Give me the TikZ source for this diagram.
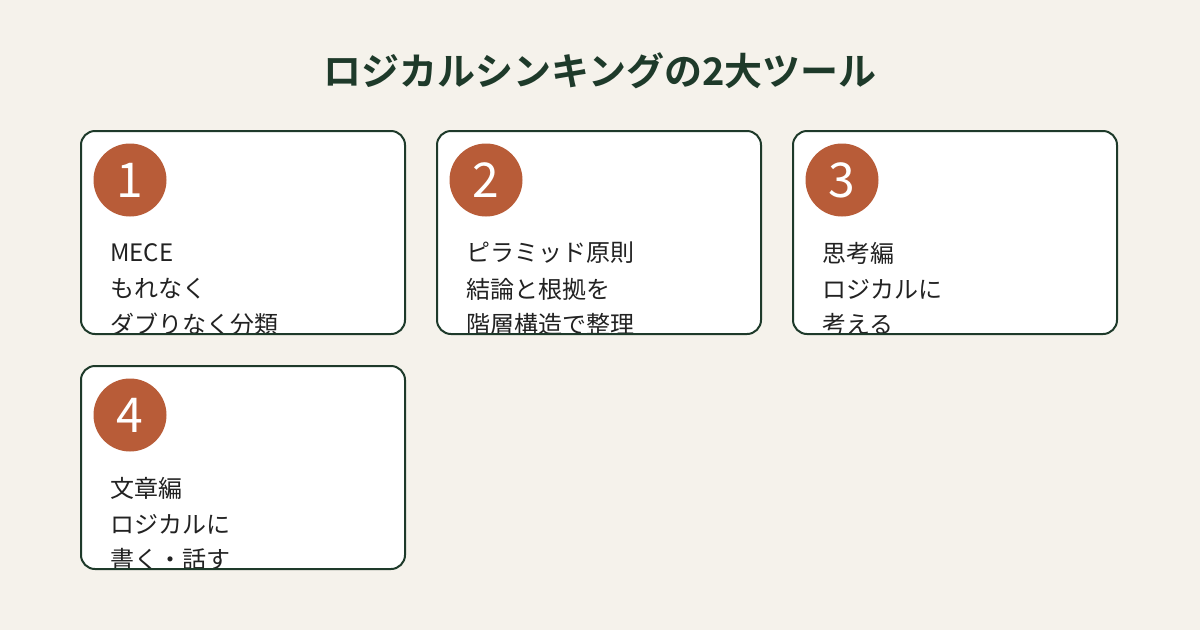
\documentclass[tikz,border=0pt]{standalone}
\usepackage{fontspec}
\newfontfamily\jp{Noto Sans CJK JP}
\newfontfamily\jpb{Noto Sans CJK JP Bold}
\definecolor{bg}{HTML}{F5F2EB}
\definecolor{dk}{HTML}{1E3A2A}
\definecolor{rust}{HTML}{B85C38}
\definecolor{tx}{HTML}{222222}
\tikzset{
 card/.style={draw=dk,line width=2pt,rounded corners=14pt},
 num/.style={circle,fill=rust,minimum size=73pt,inner sep=0pt,text=white,font=\jp\fontsize{48}{48}\selectfont},
 line/.style={anchor=west,text=tx,font=\jp\fontsize{24}{24}\selectfont,inner sep=0pt}
}
\newcommand\mycard[6]{%
 \fill[white,rounded corners=14pt] (#1,#2) rectangle ++(324,203);
 \begin{scope}
 \clip[rounded corners=14pt] (#1,#2) rectangle ++(324,203);
 \node[line] (l1#3) at (#1+29,#2+122) {#4};
 \node[line] (l2#3) at (#1+29,#2+158) {#5};
 \node[line] (l3#3) at (#1+29,#2+193) {#6};
 \end{scope}
 \draw[card] (#1,#2) rectangle ++(324,203);
 \node[num] (n#3) at (#1+49,#2+49) {#3};
}
\begin{document}
\begin{tikzpicture}[x=1pt,y=-1pt]
\fill[bg] (0,0) rectangle (1200,630);
\useasboundingbox (0,0) rectangle (1200,630);
\node[font=\jpb\fontsize{38}{38}\selectfont,text=dk] (title) at (600,71) {ロジカルシンキングの2大ツール};
\mycard{81}{131}{1}{MECE}{もれなく}{ダブりなく分類}
\mycard{437}{131}{2}{ピラミッド原則}{結論と根拠を}{階層構造で整理}
\mycard{793}{131}{3}{思考編}{ロジカルに}{考える}
\mycard{81}{366}{4}{文章編}{ロジカルに}{書く・話す}
\end{tikzpicture}
\end{document}
